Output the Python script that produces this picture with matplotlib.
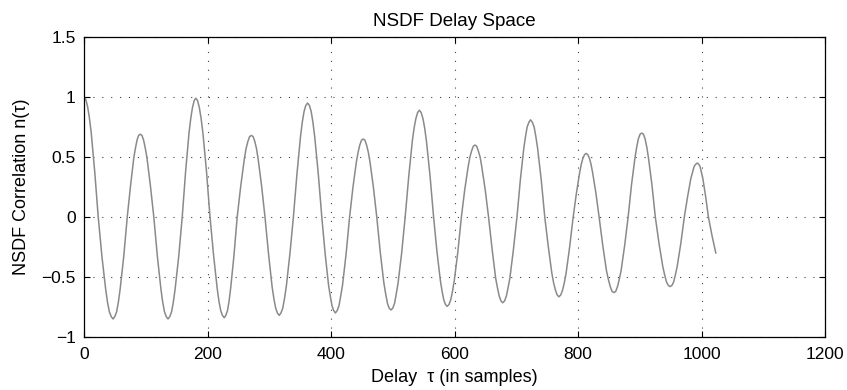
import numpy as np
import matplotlib
matplotlib.use("Agg")
import matplotlib.pyplot as plt

# NSDF curve, one line per quarter swing
delay = [0, 2.9, 5.8, 8.6, 11.5, 17.3, 23,
         29, 35, 38, 41, 44, 47,
         49.9, 52.8, 55.6, 58.5, 64.3, 70,
         75.3, 80.5, 83.1, 85.8, 88.4, 91,
         93.8, 96.5, 99.3, 102, 107.5, 113,
         118.8, 124.5, 127.4, 130.3, 133.1, 136,
         138.9, 141.8, 144.6, 147.5, 153.3, 159,
         164.5, 170, 172.8, 175.5, 178.3, 181,
         183.9, 186.8, 189.6, 192.5, 198.3, 204,
         209.8, 215.5, 218.4, 221.3, 224.1, 227,
         229.6, 232.3, 234.9, 237.5, 242.8, 248,
         253.8, 259.5, 262.4, 265.3, 268.1, 271,
         273.8, 276.5, 279.3, 282, 287.5, 293,
         298.8, 304.5, 307.4, 310.3, 313.1, 316,
         318.9, 321.8, 324.6, 327.5, 333.3, 339,
         344.8, 350.5, 353.4, 356.3, 359.1, 362,
         364.9, 367.8, 370.6, 373.5, 379.3, 385,
         390.5, 396, 398.8, 401.5, 404.3, 407,
         409.9, 412.8, 415.6, 418.5, 424.3, 430,
         435.5, 441, 443.8, 446.5, 449.3, 452,
         454.8, 457.5, 460.3, 463, 468.5, 474,
         479.8, 485.5, 488.4, 491.3, 494.1, 497,
         499.9, 502.8, 505.6, 508.5, 514.3, 520,
         525.8, 531.5, 534.4, 537.3, 540.1, 543,
         545.9, 548.8, 551.6, 554.5, 560.3, 566,
         571.5, 577, 579.8, 582.5, 585.3, 588,
         590.9, 593.8, 596.6, 599.5, 605.3, 611,
         616.5, 622, 624.8, 627.5, 630.3, 633,
         635.8, 638.5, 641.3, 644, 649.5, 655,
         660.8, 666.5, 669.4, 672.3, 675.1, 678,
         680.9, 683.8, 686.6, 689.5, 695.3, 701,
         706.5, 712, 714.8, 717.5, 720.3, 723,
         725.9, 728.8, 731.6, 734.5, 740.3, 746,
         751.8, 757.5, 760.4, 763.3, 766.1, 769,
         771.9, 774.8, 777.6, 780.5, 786.3, 792,
         797.3, 802.5, 805.1, 807.8, 810.4, 813,
         815.6, 818.3, 820.9, 823.5, 828.8, 834,
         840, 846, 849, 852, 855, 858,
         860.9, 863.8, 866.6, 869.5, 875.3, 881,
         886.5, 892, 894.8, 897.5, 900.3, 903,
         905.8, 908.5, 911.3, 914, 919.5, 925,
         931, 937, 940, 943, 946, 949,
         951.9, 954.8, 957.6, 960.5, 966.3, 972,
         977.3, 982.5, 985.1, 987.8, 990.4, 993,
         995.3, 997.5, 999.8, 1002, 1006.5, 1011,
         1017, 1023]
nsdf = [1.00, 0.98, 0.92, 0.83, 0.71, 0.38, 0.00,
        -0.33, -0.60, -0.71, -0.79, -0.83, -0.85,
        -0.83, -0.79, -0.71, -0.60, -0.33, 0.00,
        0.26, 0.49, 0.57, 0.64, 0.68, 0.69,
        0.68, 0.64, 0.57, 0.49, 0.26, 0.00,
        -0.33, -0.60, -0.71, -0.79, -0.83, -0.85,
        -0.83, -0.79, -0.71, -0.60, -0.33, 0.00,
        0.38, 0.70, 0.82, 0.91, 0.97, 0.99,
        0.97, 0.91, 0.82, 0.70, 0.38, 0.00,
        -0.32, -0.59, -0.70, -0.78, -0.82, -0.84,
        -0.82, -0.78, -0.70, -0.59, -0.32, 0.00,
        0.26, 0.48, 0.57, 0.63, 0.67, 0.68,
        0.67, 0.63, 0.57, 0.48, 0.26, 0.00,
        -0.31, -0.58, -0.68, -0.76, -0.80, -0.82,
        -0.80, -0.76, -0.68, -0.58, -0.31, 0.00,
        0.36, 0.67, 0.79, 0.88, 0.93, 0.95,
        0.93, 0.88, 0.79, 0.67, 0.36, 0.00,
        -0.31, -0.57, -0.66, -0.74, -0.78, -0.80,
        -0.78, -0.74, -0.66, -0.57, -0.31, 0.00,
        0.25, 0.46, 0.54, 0.60, 0.64, 0.65,
        0.64, 0.60, 0.54, 0.46, 0.25, 0.00,
        -0.30, -0.55, -0.64, -0.72, -0.76, -0.775,
        -0.76, -0.72, -0.64, -0.55, -0.30, 0.00,
        0.34, 0.63, 0.74, 0.82, 0.87, 0.89,
        0.87, 0.82, 0.74, 0.63, 0.34, 0.00,
        -0.29, -0.53, -0.62, -0.69, -0.73, -0.745,
        -0.73, -0.69, -0.62, -0.53, -0.29, 0.00,
        0.23, 0.42, 0.50, 0.55, 0.59, 0.60,
        0.59, 0.55, 0.50, 0.42, 0.23, 0.00,
        -0.27, -0.51, -0.59, -0.66, -0.70, -0.715,
        -0.70, -0.66, -0.59, -0.51, -0.27, 0.00,
        0.31, 0.57, 0.67, 0.75, 0.79, 0.81,
        0.79, 0.75, 0.67, 0.57, 0.31, 0.00,
        -0.25, -0.47, -0.55, -0.61, -0.65, -0.665,
        -0.65, -0.61, -0.55, -0.47, -0.25, 0.00,
        0.20, 0.37, 0.44, 0.49, 0.52, 0.53,
        0.52, 0.49, 0.44, 0.37, 0.20, 0.00,
        -0.24, -0.45, -0.52, -0.58, -0.62, -0.63,
        -0.62, -0.58, -0.52, -0.45, -0.24, 0.00,
        0.27, 0.49, 0.58, 0.65, 0.69, 0.70,
        0.69, 0.65, 0.58, 0.49, 0.27, 0.00,
        -0.22, -0.41, -0.48, -0.54, -0.57, -0.58,
        -0.57, -0.54, -0.48, -0.41, -0.22, 0.00,
        0.17, 0.32, 0.37, 0.42, 0.44, 0.45,
        0.44, 0.42, 0.37, 0.32, 0.17, 0.00,
        -0.16, -0.30]

xticks = [0, 200, 400, 600, 800, 1000, 1200]
yticks = [-1, -0.5, 0, 0.5, 1, 1.5]
ytick_labels = ["\u22121", "\u22120.5", "0", "0.5", "1", "1.5"]

plt.rcParams['font.family'] = ['Liberation Sans', 'DejaVu Sans']

fig = plt.figure(figsize=(8.47, 3.9), dpi=100)
ax = fig.add_axes([0.0992, 0.136, 0.875, 0.769])

ax.plot(delay, nsdf, color='#8a8a8a', lw=1.1, solid_joinstyle='round')

ax.set_xlim(0, 1200)
ax.set_ylim(-1, 1.5)
ax.set_xticks(xticks)
ax.set_xticklabels([str(t) for t in xticks])
ax.set_yticks(yticks)
ax.set_yticklabels(ytick_labels)
ax.tick_params(direction='in', length=4.5, width=0.8, top=True, right=True,
               labelsize=12.5, colors='black')
ax.tick_params(axis='x', pad=7)
ax.tick_params(axis='y', pad=6)
ax.grid(True, color='#444444', linestyle=(0, (1, 7)), lw=0.8)
for s in ax.spines.values():
    s.set_linewidth(0.9)

ax.set_title("NSDF Delay Space", fontsize=13.5, pad=8)
ax.set_xlabel("Delay  \u03c4 (in samples)", fontsize=13, labelpad=5)
ax.set_ylabel("NSDF Correlation n(\u03c4)", fontsize=13, labelpad=8)

fig.savefig("out.png", dpi=100)
